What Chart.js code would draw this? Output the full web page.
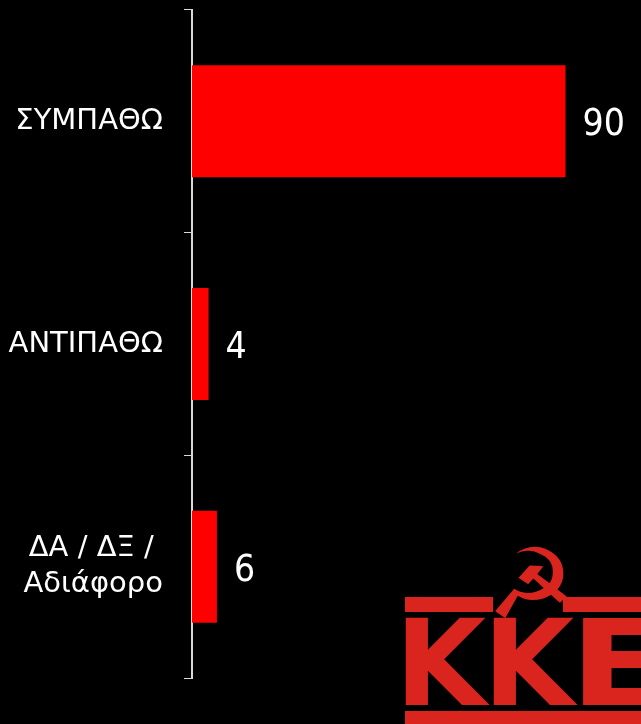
<!DOCTYPE html>
<html>
<head>
<meta charset="utf-8">
<script src="https://cdn.jsdelivr.net/npm/chart.js@4"></script>
<style>
  html, body { margin: 0; padding: 0; background: #000; }
</style>
</head>
<body>
<canvas id="myChart" width="641" height="724"></canvas>
<script>
const categories = ['ΣΥΜΠΑΘΩ', 'ΑΝΤΙΠΑΘΩ', ['ΔΑ / ΔΞ / ', 'Αδιάφορο']]
const values = [90, 4, 6]
const axisMax = 100

const labelFont = 'DejaVu Sans'
const barColor = '#ff0000'
const logoRed = '#d9251d'
const axisColor = '#d9d9d9'

// value next to the end of each bar
const valueLabels = {
    id: 'valueLabels',
    afterDatasetsDraw(chart) {
        const ctx = chart.ctx
        const meta = chart.getDatasetMeta(0)
        ctx.save()
        ctx.fillStyle = '#ffffff'
        ctx.font = '37px "DejaVu Sans Condensed", "DejaVu Sans"'
        ctx.textAlign = 'left'
        ctx.textBaseline = 'alphabetic'
        meta.data.forEach((bar, i) => {
            ctx.fillText(String(values[i]), bar.x + 17, bar.y + 14)
        })
        ctx.restore()
    }
}

// rough KKE logo in the bottom right corner
const logo = {
    id: 'logo',
    afterDraw(chart) {
        const ctx = chart.ctx
        ctx.save()
        ctx.fillStyle = logoRed
        ctx.fillRect(405, 597, 88, 15)
        ctx.fillRect(563, 597, 78, 15)
        ctx.fillRect(405, 711, 236, 13)

        ctx.font = 'bold 119px "DejaVu Sans"'
        ctx.textAlign = 'left'
        ctx.textBaseline = 'alphabetic'
        const drawLetter = (ch, x, w) => {
            const m = ctx.measureText(ch)
            const realW = m.actualBoundingBoxRight + m.actualBoundingBoxLeft
            ctx.save()
            ctx.translate(x, 705)
            ctx.scale(w / realW, 1)
            ctx.fillText(ch, m.actualBoundingBoxLeft, 0)
            ctx.restore()
        }
        drawLetter('Κ', 405, 85)
        drawLetter('Κ', 493, 85)
        drawLetter('Ε', 582, 80)

        ctx.font = '98px "DejaVu Sans"'
        ctx.textAlign = 'center'
        ctx.fillText('☭', 531, 618)
        ctx.restore()
    }
}

const ctx = document.getElementById('myChart')

new Chart(ctx, {
    type: 'bar',
    data: {
        labels: categories,
        datasets: [{
            data: values,
            backgroundColor: barColor,
            borderWidth: 0,
            barPercentage: 0.503,
            categoryPercentage: 1
        }]
    },
    options: {
        responsive: false,
        animation: false,
        indexAxis: 'y',
        layout: {
            padding: { top: 10, bottom: 46, left: 0, right: 34 }
        },
        plugins: {
            legend: { display: false },
            tooltip: { enabled: false }
        },
        scales: {
            x: {
                display: false,
                min: 0,
                max: axisMax
            },
            y: {
                afterFit: (scale) => {
                    scale.width = 192
                    scale.paddingTop = 0
                    scale.paddingBottom = 0
                },
                grid: {
                    drawOnChartArea: false,
                    tickLength: 8,
                    color: axisColor,
                    lineWidth: 1
                },
                border: {
                    color: axisColor,
                    width: 2
                },
                ticks: {
                    color: '#ffffff',
                    padding: 21,
                    font: { family: labelFont, size: 29, lineHeight: 1.24 }
                }
            }
        }
    },
    plugins: [valueLabels, logo]
})
</script>
</body>
</html>
